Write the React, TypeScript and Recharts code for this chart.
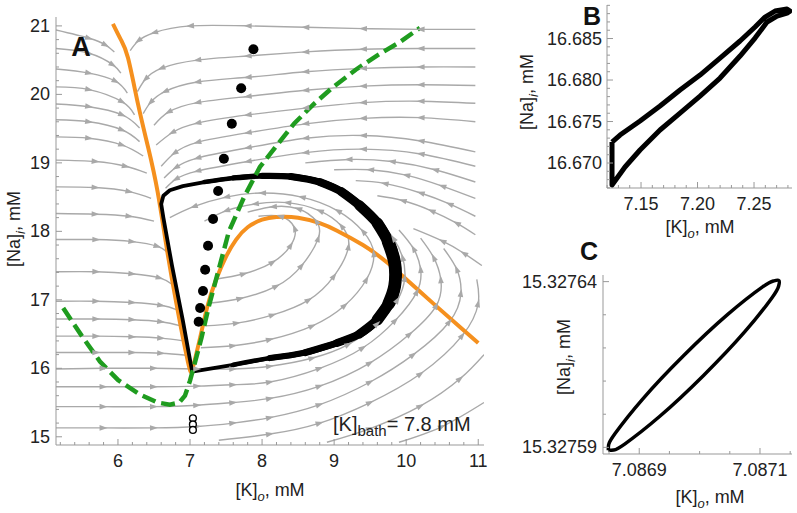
import React from 'react';
import { LineChart, Line, XAxis, YAxis } from 'recharts';

type P = [number, number];

const FONT = '"Liberation Sans", Arial, sans-serif';
const GRAY = '#a9a9a9';
const ORANGE = '#f5901e';
const GREEN = '#1f9c1f';
const FRAME = '#999';

// ---------- panel A: streamlines, listed in flow direction ----------
const leftFlow: P[][] = [
    [[5.14, 20.94], [5.6, 20.82], [5.83, 20.72], [5.95, 20.62]],
    [[5.14, 20.67], [5.6, 20.6], [5.93, 20.43], [6.04, 20.31]],
    [[5.14, 20.37], [5.6, 20.31], [5.97, 20.19], [6.13, 20.02]],
    [[5.14, 20.11], [5.6, 20.07], [6.06, 19.89], [6.23, 19.7]],
    [[5.14, 19.86], [5.6, 19.82], [6.06, 19.7], [6.3, 19.51]],
    [[5.14, 19.63], [5.6, 19.6], [6.06, 19.48], [6.3, 19.31]],
    [[5.14, 19.38], [5.6, 19.36], [6.06, 19.26], [6.35, 19.1]],
    [[5.14, 19.04], [5.69, 19.02], [6.11, 18.95], [6.4, 18.85]],
    [[5.14, 18.65], [5.69, 18.64], [6.16, 18.58], [6.46, 18.48]],
    [[5.14, 18.26], [5.69, 18.25], [6.16, 18.22], [6.5, 18.15]],
    [[5.14, 17.88], [5.7, 17.88], [6.2, 17.85], [6.55, 17.78], [6.68, 17.7]],
    [[5.14, 17.41], [5.7, 17.41], [6.2, 17.38], [6.58, 17.32], [6.76, 17.22]],
    [[5.14, 16.98], [5.7, 16.98], [6.2, 16.96], [6.6, 16.92], [6.83, 16.85]],
    [[5.14, 16.72], [5.7, 16.72], [6.2, 16.71], [6.6, 16.68], [6.87, 16.62]],
    [[5.14, 16.47], [5.7, 16.47], [6.2, 16.46], [6.6, 16.44], [6.91, 16.4]],
    [[5.14, 16.23], [5.7, 16.23], [6.2, 16.23], [6.6, 16.22], [6.95, 16.19]],
];

const upperFlow: P[][] = [
    [[10.96, 20.95], [10.2, 20.95], [9.4, 20.96], [8.6, 20.98], [7.8, 21.0], [7.0, 21.0], [6.5, 20.9], [6.28, 20.78], [6.17, 20.64]],
    [[10.96, 20.67], [10.2, 20.67], [9.4, 20.66], [8.6, 20.62], [7.8, 20.56], [7.1, 20.5], [6.6, 20.38], [6.38, 20.22], [6.27, 20.04]],
    [[10.96, 20.4], [10.2, 20.4], [9.4, 20.38], [8.6, 20.33], [7.8, 20.25], [7.1, 20.18], [6.65, 20.04], [6.45, 19.88], [6.35, 19.72]],
    [[10.96, 20.13], [10.2, 20.14], [9.4, 20.12], [8.6, 20.06], [7.8, 19.97], [7.1, 19.88], [6.7, 19.74], [6.5, 19.55]],
    [[10.96, 19.87], [10.2, 19.9], [9.4, 19.88], [8.6, 19.8], [7.8, 19.7], [7.1, 19.58], [6.75, 19.44], [6.53, 19.26]],
    [[10.96, 19.6], [10.2, 19.66], [9.4, 19.65], [8.6, 19.57], [7.8, 19.44], [7.1, 19.3], [6.78, 19.14], [6.6, 18.95]],
    [[10.96, 19.16], [10.2, 19.32], [9.4, 19.4], [8.6, 19.36], [7.8, 19.22], [7.1, 19.07], [6.8, 18.93], [6.64, 18.78]],
    [[10.96, 18.95], [10.2, 19.13], [9.4, 19.2], [8.6, 19.15], [7.8, 19.02], [7.1, 18.88], [6.8, 18.76], [6.66, 18.63]],
    [[10.96, 18.72], [10.4, 18.9], [9.8, 19.02], [9.2, 19.05], [8.6, 19.0]],
    [[10.96, 18.48], [10.5, 18.66], [10.0, 18.82], [9.5, 18.9], [9.0, 18.9]],
    [[10.96, 18.22], [10.6, 18.4], [10.2, 18.56], [9.7, 18.7], [9.3, 18.74]],
    [[10.96, 17.95], [10.7, 18.12], [10.35, 18.3], [9.95, 18.45], [9.6, 18.52]],
    [[11.05, 17.5], [10.8, 17.68], [10.5, 17.86], [10.1, 18.04]],
];

const outerArcs: P[][] = [
    [[5.14, 15.99], [5.8, 16.0], [6.5, 16.0], [7.1, 15.99], [7.6, 15.99], [8.11, 16.03], [8.7, 16.15], [9.2, 16.35], [9.6, 16.65], [9.88, 17.0], [9.98, 17.32], [9.95, 17.62], [9.82, 17.9], [9.62, 18.15]],
    [[5.14, 15.73], [5.8, 15.73], [6.5, 15.73], [7.1, 15.74], [7.6, 15.76], [8.11, 15.8], [8.8, 16.0], [9.4, 16.3], [9.85, 16.7], [10.15, 17.12], [10.2, 17.45], [10.1, 17.75], [9.9, 18.02]],
    [[5.14, 15.44], [5.8, 15.44], [6.5, 15.44], [7.1, 15.46], [7.6, 15.5], [8.11, 15.56], [8.8, 15.74], [9.5, 16.08], [10.05, 16.5], [10.42, 16.92], [10.48, 17.3], [10.38, 17.62], [10.2, 17.9]],
    [[5.14, 15.13], [5.8, 15.13], [6.5, 15.13], [7.1, 15.15], [7.6, 15.2], [8.11, 15.28], [8.8, 15.47], [9.5, 15.8], [10.1, 16.2], [10.6, 16.68], [10.76, 17.1], [10.7, 17.45], [10.52, 17.75]],
    [[7.4, 14.95], [8.11, 15.04], [8.8, 15.2], [9.5, 15.5], [10.2, 15.92], [10.78, 16.48], [11.0, 16.95], [10.98, 17.3]],
    [[8.9, 14.92], [9.5, 15.12], [10.2, 15.45], [10.75, 15.85], [11.08, 16.2]],
    [[9.9, 14.92], [10.5, 15.15], [11.08, 15.5]],
];

const innerArcs: P[][] = [
    [[7.15, 16.3], [7.6, 16.33], [8.11, 16.42], [8.7, 16.62], [9.15, 16.92], [9.45, 17.3], [9.55, 17.68], [9.4, 18.0], [9.05, 18.3], [8.55, 18.5], [8.0, 18.56], [7.5, 18.5], [7.05, 18.36], [6.72, 18.2]],
    [[7.2, 16.62], [7.65, 16.66], [8.15, 16.78], [8.65, 17.0], [9.0, 17.35], [9.2, 17.78], [9.1, 18.08], [8.8, 18.3], [8.35, 18.42], [7.9, 18.4], [7.5, 18.3], [7.2, 18.15]],
    [[7.25, 16.95], [7.7, 17.02], [8.2, 17.2], [8.55, 17.5], [8.78, 17.9], [8.75, 18.15], [8.5, 18.33], [8.15, 18.36], [7.8, 18.28]],
    [[7.35, 17.3], [7.75, 17.38], [8.15, 17.55], [8.4, 17.8], [8.45, 18.05], [8.25, 18.22], [7.95, 18.22]],
];

// ---------- panel A: nullclines, orbit, markers ----------
const orangeLeft: P[] = [[5.93, 21.03], [6.04, 20.8], [6.14, 20.53], [6.28, 19.85], [6.42, 19.22], [6.55, 18.58], [6.67, 17.8], [6.81, 16.95], [6.97, 16.1], [7.02, 15.95]];
const orangeRight: P[] = [[7.03, 15.97], [7.13, 16.4], [7.24, 16.9], [7.36, 17.29], [7.5, 17.63], [7.64, 17.88], [7.8, 18.06], [8.0, 18.17], [8.2, 18.21], [8.5, 18.2], [8.8, 18.12], [9.04, 18.01], [9.4, 17.8], [9.74, 17.54], [10.19, 17.12], [10.75, 16.6], [11.0, 16.37]];
const greenNull: P[] = [[5.24, 16.88], [5.5, 16.47], [5.75, 16.1], [6.0, 15.83], [6.3, 15.62], [6.55, 15.5], [6.72, 15.47], [6.85, 15.5], [6.93, 15.6], [7.0, 15.82], [7.06, 16.05], [7.16, 16.45], [7.26, 16.9], [7.4, 17.45], [7.54, 18.0], [7.75, 18.5], [7.97, 18.94], [8.2, 19.25], [8.45, 19.58], [8.72, 19.86], [8.99, 20.11], [9.3, 20.36], [9.6, 20.57], [9.92, 20.77], [10.19, 20.97]];
const limitCycle: P[] = [[7.03, 15.95], [6.9, 16.7], [6.75, 17.5], [6.63, 18.2], [6.6, 18.4], [6.63, 18.52], [6.72, 18.6], [6.9, 18.66], [7.2, 18.72], [7.6, 18.78], [8.0, 18.81], [8.4, 18.8], [8.8, 18.72], [9.1, 18.58], [9.35, 18.38], [9.6, 18.12], [9.75, 17.85], [9.84, 17.54], [9.84, 17.2], [9.76, 16.95], [9.6, 16.71], [9.35, 16.5], [9.04, 16.37], [8.6, 16.23], [8.11, 16.15], [7.6, 16.05], [7.03, 15.95]];
const filledDots: P[] = [[7.88, 20.66], [7.71, 20.09], [7.58, 19.57], [7.47, 19.06], [7.39, 18.59], [7.32, 18.18], [7.25, 17.79], [7.21, 17.44], [7.18, 17.13], [7.14, 16.88], [7.12, 16.68]];
const openDots: P[] = [[7.04, 15.27], [7.04, 15.18], [7.04, 15.1]];

const aXTicks = [6, 7, 8, 9, 10, 11];
const aYTicks = [15, 16, 17, 18, 19, 20, 21];

// ---------- panel B ----------
const loopB: P[] = [
    [7.12434, 16.67253], [7.13142, 16.67337], [7.14912, 16.67506], [7.16681, 16.67687], [7.18451, 16.6788], [7.20221, 16.6806],
    [7.21991, 16.68265], [7.23761, 16.6847], [7.25088, 16.68639], [7.25973, 16.68759], [7.26858, 16.68831], [7.2792, 16.68855],
    [7.28186, 16.68831], [7.2792, 16.68807], [7.27035, 16.68771], [7.2615, 16.68699], [7.25088, 16.68506], [7.23761, 16.68289],
    [7.21991, 16.68024], [7.20221, 16.67807], [7.18451, 16.67602], [7.16681, 16.67398], [7.14912, 16.67157], [7.13584, 16.66952],
    [7.12434, 16.66735], [7.12434, 16.67253],
];
const bXTicks = [7.15, 7.2, 7.25];
const bYTicks = [16.67, 16.675, 16.68, 16.685];

// ---------- panel C ----------
const loopC: P[] = [
    [7.0868488, 15.3275891], [7.0868578, 15.3275892], [7.0868759, 15.327591], [7.0869336, 15.3275993], [7.0870065, 15.3276117],
    [7.0870749, 15.3276249], [7.0871205, 15.3276353], [7.0871308, 15.3276386], [7.0871314, 15.3276403], [7.0871224, 15.3276402],
    [7.0871043, 15.3276384], [7.0870466, 15.3276301], [7.0869737, 15.3276177], [7.0869053, 15.3276045], [7.0868597, 15.3275941],
    [7.0868493, 15.3275908], [7.0868488, 15.3275891],
];
const cXTicks = [7.0869, 7.0871];
const cYTicks = [15.32759, 15.32764];

const range = (a: number, step: number, n: number) => Array.from({ length: n }, (_, i) => a + i * step);

const rows = (pts: P[]) => pts.map(([x, y]) => ({ x, y }));

// panel A geometry
const A = { w: 490, h: 480, l: 56, t: 17, r: 484, b: 445, x0: 5.14, x1: 11.08, y0: 14.88, y1: 21.13 };
const SX = (A.r - A.l) / (A.x1 - A.x0);
const SY = (A.b - A.t) / (A.y1 - A.y0);

function arrowDot(pts: P[]) {
    return (props: any) => {
        const { cx, cy, index } = props;
        const key = `ar-${index}`;
        if (index === 0 || index >= pts.length - 1 || cx == null) return <g key={key} />;
        const [xa, ya] = pts[index - 1];
        const [xb, yb] = pts[index + 1];
        let dx = (xb - xa) * SX;
        let dy = -(yb - ya) * SY;
        const len = Math.hypot(dx, dy) || 1;
        dx /= len;
        dy /= len;
        const bx = cx - dx * 4;
        const by = cy - dy * 4;
        const poly = `${cx + dx * 4},${cy + dy * 4} ${bx - dy * 2.8},${by + dx * 2.8} ${bx + dy * 2.8},${by - dx * 2.8}`;
        return <polygon key={key} points={poly} fill={GRAY} />;
    };
}

const near = (list: number[], v: number) => list.some((m) => Math.abs(m - v) < 1e-9);

function xTick(edge: number, dir: number, majors: number[], fmt: ((v: number) => string) | null) {
    return (props: any) => {
        const { x, payload, index } = props;
        const v = payload.value;
        const major = near(majors, v);
        const len = major ? 6 : 3;
        return (
            <g key={`xt-${index}`}>
                <line x1={x} x2={x} y1={edge} y2={edge + dir * len} stroke={FRAME} strokeWidth={1} />
                {major && fmt ? (
                    <text x={x} y={edge + 16} textAnchor='middle' dominantBaseline='central' fontSize={18} fill='#222' fontFamily={FONT}>
                        {fmt(v)}
                    </text>
                ) : null}
            </g>
        );
    };
}

function yTick(edge: number, dir: number, majors: number[], fmt: ((v: number) => string) | null, gap = 6) {
    return (props: any) => {
        const { y, payload, index } = props;
        const v = payload.value;
        const major = near(majors, v);
        const len = major ? 6 : 3;
        return (
            <g key={`yt-${index}`}>
                <line x1={edge} x2={edge + dir * len} y1={y} y2={y} stroke={FRAME} strokeWidth={1} />
                {major && fmt ? (
                    <text x={edge - gap} y={y} textAnchor='end' dominantBaseline='central' fontSize={18} fill='#222' fontFamily={FONT}>
                        {fmt(v)}
                    </text>
                ) : null}
            </g>
        );
    };
}

function Axes({
    g, xt, yt, xMaj, yMaj, xFmt, yFmt, yAxisW, xAxisH, yGap,
}: any) {
    return [
        <XAxis key='xb' type='number' dataKey='x' domain={[g.x0, g.x1]} allowDataOverflow ticks={xt} interval={0} height={xAxisH}
            axisLine={{ stroke: FRAME }} tickLine={false} tick={xTick(g.b, -1, xMaj, xFmt)} />,
        <XAxis key='xt' xAxisId='top' orientation='top' type='number' dataKey='x' domain={[g.x0, g.x1]} allowDataOverflow ticks={xt}
            interval={0} height={0} axisLine={{ stroke: FRAME }} tickLine={false} tick={xTick(g.t, 1, xMaj, null)} />,
        <YAxis key='yl' type='number' domain={[g.y0, g.y1]} allowDataOverflow ticks={yt} interval={0} width={yAxisW}
            axisLine={{ stroke: FRAME }} tickLine={false} tick={yTick(g.l, 1, yMaj, yFmt, yGap)} />,
        <YAxis key='yr' yAxisId='right' orientation='right' type='number' domain={[g.y0, g.y1]} allowDataOverflow ticks={yt}
            interval={0} width={0} axisLine={{ stroke: FRAME }} tickLine={false} tick={yTick(g.r, -1, yMaj, null)} />,
    ];
}

function PanelA() {
    const streams = [...leftFlow, ...upperFlow, ...outerArcs, ...innerArcs];
    // the orbit band thickens gradually on its right side
    const bands: [number, number, number][] = [
        [8, 26, 4.6], [9, 25, 5.4], [10, 25, 6.2], [11, 24, 7], [12, 23, 8], [13, 22, 9], [14, 21, 10.3], [15, 21, 11.5], [16, 20, 12.8],
    ];
    return (
        <LineChart width={A.w} height={A.h} margin={{ top: A.t, right: A.w - A.r, bottom: 0, left: 0 }}>
            {Axes({
                g: A, xt: range(5.2, 0.2, 30), yt: range(15, 0.2, 31), xMaj: aXTicks, yMaj: aYTicks,
                xFmt: (v: number) => String(Math.round(v)), yFmt: (v: number) => String(Math.round(v)),
                yAxisW: A.l, xAxisH: A.h - A.b, yGap: 6,
            })}
            {streams.map((s, i) => (
                <Line key={`s${i}`} data={rows(s)} dataKey='y' type='natural' stroke={GRAY} strokeWidth={1.4}
                    dot={arrowDot(s)} activeDot={false} isAnimationActive={false} />
            ))}
            <Line data={rows(orangeLeft)} dataKey='y' type='natural' stroke={ORANGE} strokeWidth={4} dot={false} activeDot={false} isAnimationActive={false} />
            <Line data={rows(orangeRight)} dataKey='y' type='natural' stroke={ORANGE} strokeWidth={4} dot={false} activeDot={false} isAnimationActive={false} />
            <Line data={rows(limitCycle)} dataKey='y' type='linear' stroke='#000' strokeWidth={3.8} strokeLinejoin='round' dot={false} activeDot={false} isAnimationActive={false} />
            {bands.map(([a, b, w], i) => (
                <Line key={`b${i}`} data={rows(limitCycle.slice(a, b))} dataKey='y' type='natural' stroke='#000' strokeWidth={w}
                    strokeLinecap='round' dot={false} activeDot={false} isAnimationActive={false} />
            ))}
            <Line data={rows(greenNull)} dataKey='y' type='linear' stroke={GREEN} strokeWidth={4.5} strokeDasharray='14 6' dot={false} activeDot={false} isAnimationActive={false} />
            <Line data={rows(filledDots)} dataKey='y' stroke='none' dot={{ r: 5, fill: '#000', stroke: '#000', strokeWidth: 0 }} activeDot={false} isAnimationActive={false} />
            <Line data={rows(openDots)} dataKey='y' stroke='none' dot={{ r: 3.4, fill: '#fff', stroke: '#000', strokeWidth: 1.4 }} activeDot={false} isAnimationActive={false} />
        </LineChart>
    );
}

const B = { w: 277, h: 218, l: 87, t: 5, r: 272, b: 188, x0: 7.1199, x1: 7.2836, y0: 16.66699, y1: 16.68904 };
const C = { w: 277, h: 234, l: 83, t: 25, r: 272, b: 204, x0: 7.08684, x1: 7.087153, y0: 15.327588, y1: 15.327642 };

function PanelB() {
    return (
        <LineChart width={B.w} height={B.h} margin={{ top: B.t, right: B.w - B.r, bottom: 0, left: 0 }}>
            {Axes({
                g: B, xt: range(7.12, 0.01, 17), yt: range(16.667, 0.001, 23), xMaj: bXTicks, yMaj: bYTicks,
                xFmt: (v: number) => v.toFixed(2), yFmt: (v: number) => v.toFixed(3),
                yAxisW: B.l, xAxisH: B.h - B.b, yGap: 5,
            })}
            <Line data={rows(loopB)} dataKey='y' type='linear' stroke='#000' strokeWidth={5} strokeLinejoin='round' dot={false} activeDot={false} isAnimationActive={false} />
        </LineChart>
    );
}

function PanelC() {
    return (
        <LineChart width={C.w} height={C.h} margin={{ top: C.t, right: C.w - C.r, bottom: 0, left: 0 }}>
            {Axes({
                g: C, xt: range(7.08685, 0.00005, 7), yt: range(15.32759, 0.00001, 6), xMaj: cXTicks, yMaj: cYTicks,
                xFmt: (v: number) => v.toFixed(4), yFmt: (v: number) => v.toFixed(5),
                yAxisW: C.l, xAxisH: C.h - C.b, yGap: 6,
            })}
            <Line data={rows(loopC)} dataKey='y' type='natural' stroke='#000' strokeWidth={3.5} dot={false} activeDot={false} isAnimationActive={false} />
        </LineChart>
    );
}

function KoLabel({ x, y }: { x: number; y: number }) {
    return (
        <text x={x} y={y} textAnchor='middle' fontSize={18} fill='#222' fontFamily={FONT}>
            [K]<tspan fontSize={13} fontStyle='italic' dy={5}>o</tspan>
            <tspan dy={-5}>, mM</tspan>
        </text>
    );
}

function NaLabel({ x, y }: { x: number; y: number }) {
    return (
        <text x={x} y={y} textAnchor='middle' fontSize={18} fill='#222' fontFamily={FONT} transform={`rotate(-90 ${x} ${y})`}>
            [Na]<tspan fontSize={13} fontStyle='italic' dy={5}>i</tspan>
            <tspan dy={-5}>, mM</tspan>
        </text>
    );
}

export default function App() {
    return (
        <div style={{ position: 'absolute', left: 0, top: 0, width: 797, height: 513, background: '#fff', overflow: 'hidden' }}>
            <div style={{ position: 'absolute', left: 0, top: 0 }}>
                <PanelA />
            </div>
            <div style={{ position: 'absolute', left: 520, top: 0 }}>
                <PanelB />
            </div>
            <div style={{ position: 'absolute', left: 520, top: 250 }}>
                <PanelC />
            </div>
            <svg width={797} height={513} style={{ position: 'absolute', left: 0, top: 0, pointerEvents: 'none' }}>
                <text x={81} y={56} textAnchor='middle' fontSize={27} fontWeight='bold' fill='#111' fontFamily={FONT}>A</text>
                <text x={592} y={25} textAnchor='middle' fontSize={25} fontWeight='bold' fill='#111' fontFamily={FONT}>B</text>
                <text x={589} y={260} textAnchor='middle' fontSize={25} fontWeight='bold' fill='#111' fontFamily={FONT}>C</text>
                <text x={333} y={431} fontSize={20} fill='#222' fontFamily={FONT}>
                    [K]<tspan fontSize={15} dy={5}>bath</tspan>
                    <tspan dy={-5}>= 7.8 mM</tspan>
                </text>
                <KoLabel x={270} y={496} />
                <NaLabel x={20} y={229} />
                <KoLabel x={700} y={233} />
                <NaLabel x={533} y={92} />
                <KoLabel x={710} y={503} />
                <NaLabel x={570} y={357} />
            </svg>
        </div>
    );
}
